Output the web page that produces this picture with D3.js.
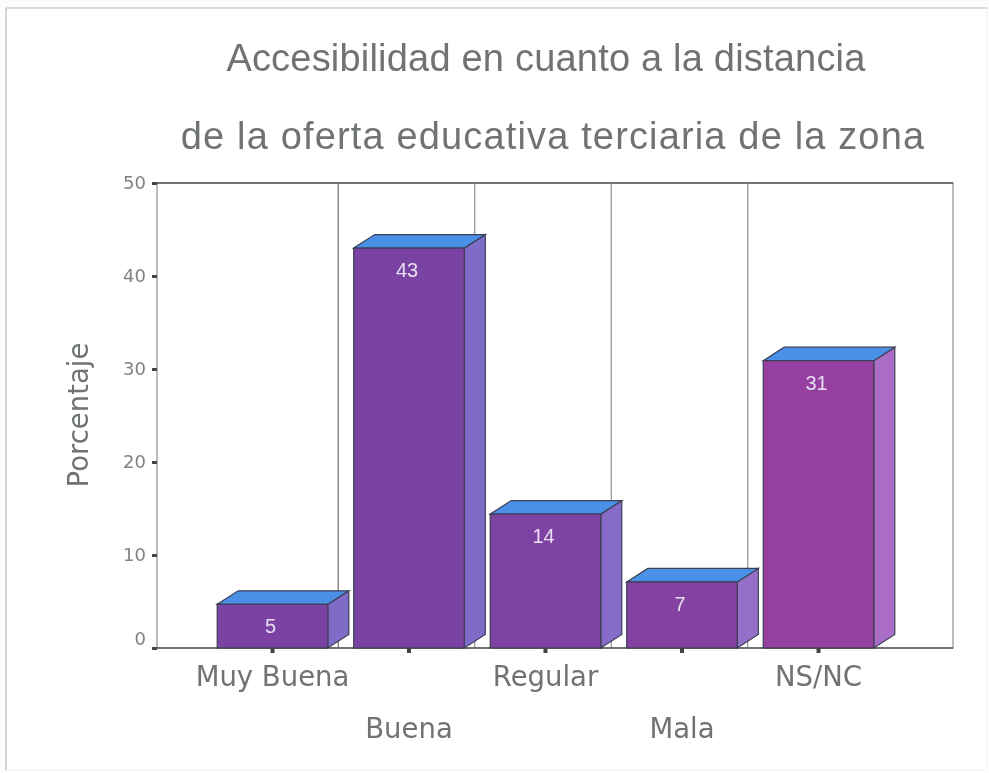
<!DOCTYPE html>
<html>
<head>
<meta charset="utf-8">
<script src="https://cdn.jsdelivr.net/npm/d3@7"></script>
<style>
  html, body { margin: 0; padding: 0; background: #fdfdfd; }
  svg { display: block; }
</style>
</head>
<body>
<div id="chart"></div>
<script>
const categorias = ['Muy Buena', 'Buena', 'Regular', 'Mala', 'NS/NC'];
const porcentajes = [4.7, 43, 14.4, 7.1, 30.9];
const etiquetas = ['5', '43', '14', '7', '31'];
const yTicks = [0, 10, 20, 30, 40, 50];
const frontColors = ['#7b43a3', '#7a42a2', '#7d42a2', '#8343a2', '#9540a0'];
const sideColors = ['#7f6cc9', '#7f6cc9', '#866cc8', '#9470c9', '#ab6ec6'];
const titleLines = ['Accesibilidad en cuanto a la distancia', 'de la oferta educativa terciaria de la zona'];

const width = 989, height = 773;
const margin = {top: 183, right: 36, bottom: 125, left: 157};
const depth = {x: 21, y: 13.5};
const textColor = '#6f7373';
const edge = '#3c3f55';

const svg = d3.select('#chart').append('svg')
  .attr('width', width)
  .attr('height', height);

// scan softening
svg.append('filter').attr('id', 'soft')
  .append('feGaussianBlur').attr('stdDeviation', 0.55);

const g = svg.append('g').attr('filter', 'url(#soft)');

// page frame, darker on the top and left edges
g.append('rect')
  .attr('x', 6).attr('y', 8)
  .attr('width', 981).attr('height', 762)
  .attr('fill', '#ffffff')
  .attr('stroke', '#f0f1f0');
g.append('path')
  .attr('d', 'M6,770V8H987')
  .attr('fill', 'none')
  .attr('stroke', '#bcbfbc')
  .attr('stroke-width', 1.2);

const x = d3.scaleBand()
  .domain(categorias)
  .range([204.25, 886.75])
  .paddingInner(0.19)
  .paddingOuter(0.095);

const y = d3.scaleLinear()
  .domain([0, 50])
  .range([height - margin.bottom, margin.top]);

const xRight = width - margin.right;

// Plot wall
g.append('rect')
  .attr('x', margin.left).attr('y', y(50))
  .attr('width', xRight - margin.left).attr('height', y(0) - y(50))
  .attr('fill', '#fff')
  .attr('stroke', '#8c9090')
  .attr('stroke-width', 1.2);

g.append('line')
  .attr('x1', margin.left).attr('x2', xRight)
  .attr('y1', y(50)).attr('y2', y(50))
  .attr('stroke', '#55585a').attr('stroke-width', 1.4);

// Dividers between the bars
g.selectAll('.divider')
  .data(categorias.slice(1))
  .join('line')
  .attr('class', 'divider')
  .attr('x1', d => x(d) - x.step() * x.paddingInner() / 2 - 2.5)
  .attr('x2', d => x(d) - x.step() * x.paddingInner() / 2 - 2.5)
  .attr('y1', y(50)).attr('y2', y(0))
  .attr('stroke', (d, i) => i === 0 ? '#6a6e70' : '#8c9090')
  .attr('stroke-width', 1.2);

g.append('line')
  .attr('x1', margin.left).attr('x2', xRight)
  .attr('y1', y(0)).attr('y2', y(0))
  .attr('stroke', '#55585a').attr('stroke-width', 1.4);

// Axes
const yAxis = d3.axisLeft(y).tickValues(yTicks).tickSize(5).tickPadding(6);
const axisY = g.append('g')
  .attr('transform', `translate(${margin.left},0)`)
  .call(yAxis);
axisY.select('.domain').remove();
axisY.selectAll('.tick line').attr('stroke', '#444').attr('stroke-width', 3);
axisY.selectAll('.tick text')
  .attr('fill', '#7f8383')
  .attr('dy', d => d === 0 ? -4 : '0.32em')
  .style('font', '18px "DejaVu Sans", sans-serif');

const xAxis = d3.axisBottom(x).tickSize(5).tickPadding(16);
const axisX = g.append('g')
  .attr('transform', `translate(0,${y(0)})`)
  .call(xAxis);
axisX.select('.domain').remove();
axisX.selectAll('.tick line').attr('stroke', '#444').attr('stroke-width', 4);
axisX.selectAll('.tick text')
  .attr('fill', textColor)
  .attr('dy', (d, i) => i % 2 ? 69 : 17)
  .style('font', '27.5px "DejaVu Sans", sans-serif');

// Bars
const bars = g.selectAll('.bar')
  .data(categorias)
  .join('g')
  .attr('class', 'bar');

const valueOf = d => porcentajes[categorias.indexOf(d)];

bars.append('path')
  .attr('d', d => {
    const r = x(d) + x.bandwidth(), t = y(valueOf(d)), b = y(0);
    return `M${r},${t}L${r + depth.x},${t - depth.y}V${b - depth.y}L${r},${b}Z`;
  })
  .attr('fill', (d, i) => sideColors[i])
  .attr('stroke', edge).attr('stroke-width', 1.2);

bars.append('path')
  .attr('d', d => {
    const l = x(d), r = l + x.bandwidth(), t = y(valueOf(d));
    return `M${l},${t}L${l + depth.x},${t - depth.y}H${r + depth.x}L${r},${t}Z`;
  })
  .attr('fill', '#4a90e6')
  .attr('stroke', edge).attr('stroke-width', 1.2);

bars.append('rect')
  .attr('x', d => x(d))
  .attr('y', d => y(valueOf(d)))
  .attr('width', x.bandwidth())
  .attr('height', d => y(0) - y(valueOf(d)))
  .attr('fill', (d, i) => frontColors[i])
  .attr('stroke', edge).attr('stroke-width', 1.2);

bars.append('text')
  .attr('x', d => x(d) + x.bandwidth() / 2 - 2)
  .attr('y', d => y(valueOf(d)) + 29)
  .attr('text-anchor', 'middle')
  .attr('fill', '#e9dff2')
  .style('font', '20px "Liberation Sans", sans-serif')
  .text((d, i) => etiquetas[i]);

// Titles
g.selectAll('.title')
  .data(titleLines)
  .join('text')
  .attr('class', 'title')
  .attr('x', (d, i) => i ? 553 : 546)
  .attr('y', (d, i) => 71 + i * 78)
  .attr('text-anchor', 'middle')
  .attr('fill', textColor)
  .style('letter-spacing', (d, i) => i ? '1.15px' : '0.2px')
  .style('font-family', '"Liberation Sans", sans-serif')
  .style('font-size', '38px')
  .text(d => d);

g.append('text')
  .attr('transform', 'translate(88,415) rotate(-90)')
  .attr('text-anchor', 'middle')
  .attr('fill', textColor)
  .style('font', '27.5px "DejaVu Sans", sans-serif')
  .text('Porcentaje');
</script>
</body>
</html>
